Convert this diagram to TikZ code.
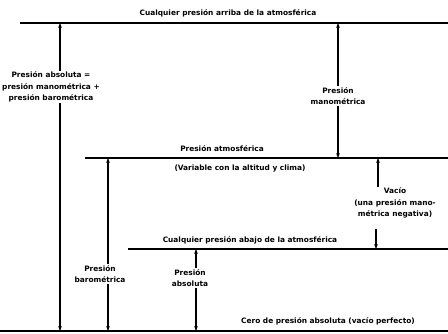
\documentclass[tikz,border=0pt]{standalone}
\usepackage{fontspec}
\setmainfont{DejaVu Sans}
\usetikzlibrary{arrows.meta}
\begin{document}
\begin{tikzpicture}[x=1pt,y=-1pt,
  lvl/.style={line width=1.9pt},
  dim/.style={line width=1.4pt},
  tip/.style={-{Stealth[length=5pt,width=3.8pt]}},
  lbl/.style={font=\bfseries\fontsize{7.4}{11.5}\selectfont, inner sep=1pt, align=center},
]
\useasboundingbox (0,0) rectangle (448,334);
% levels
\coordinate (t1) at (20,23);  \coordinate (t2) at (448,23);
\coordinate (m1) at (85,158); \coordinate (m2) at (448,158);
\coordinate (b1) at (128,249); \coordinate (b2) at (448,249);
\coordinate (z1) at (0,331);  \coordinate (z2) at (448,331);
\draw[lvl] (t1) -- (t2);
\draw[lvl] (m1) -- (m2);
\draw[lvl] (b1) -- (b2);
\draw[lvl] (z1) -- (z2);
% level texts
\node[lbl] (ttop) at (228,13) {Cualquier presión arriba de la atmosférica};
\node[lbl] (tatm) at (222,149) {Presión atmosférica};
\node[lbl] (tvar) at (240,168) {(Variable con la altitud y clima)};
\node[lbl] (tbel) at (250,240) {Cualquier presión abajo de la atmosférica};
\node[lbl] (tzer) at (328,321) {Cero de presión absoluta (vacío perfecto)};
% x positions of the vertical arrows
\coordinate (xa) at (60,0);
\coordinate (xb) at (108,0);
\coordinate (xv) at (378,0);
\coordinate (xc) at (196,0);
% vertical arrows
\node[lbl] (labs) at (51,87) {Presión absoluta =\\presión manométrica +\\presión barométrica};
\draw[dim,tip] (labs.north -| xa) -- (xa |- t1);
\draw[dim,tip] (labs.south -| xa) -- (xa |- z1);

\node[lbl] (lman) at (338,96) {Presión\\manométrica};
\draw[dim,tip] (lman.north) -- (lman.north |- t1);
\draw[dim,tip] (lman.south) -- (lman.south |- m1);

\node[lbl] (lbar) at (100,274) {Presión\\barométrica};
\draw[dim,tip] (lbar.north -| xb) -- (xb |- m1);
\draw[dim,tip] (lbar.south -| xb) -- (xb |- z1);

\node[lbl] (lvac) at (395,203) {Vacío\\(una presión mano-\\métrica negativa)};
\coordinate (vlow) at (376,229);
\draw[dim,tip] (lvac.north -| xv) -- (xv |- m1);
\draw[dim,tip] (vlow) -- (vlow |- b1);

\node[lbl] (labs2) at (190,278) {Presión\\absoluta};
\draw[dim,tip] (labs2.north -| xc) -- (xc |- b1);
\draw[dim,tip] (labs2.south -| xc) -- (xc |- z1);
\end{tikzpicture}
\end{document}
